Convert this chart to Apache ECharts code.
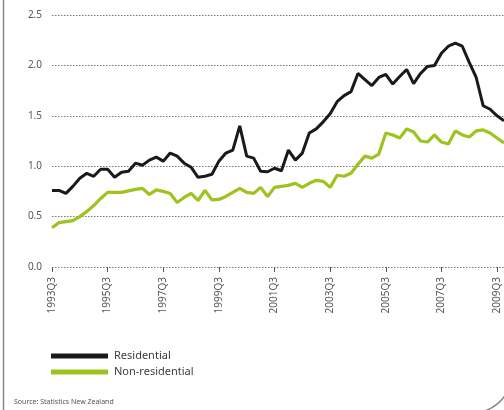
<!DOCTYPE html>
<html>
<head>
<meta charset="utf-8">
<script src="https://cdn.jsdelivr.net/npm/echarts@6/dist/echarts.min.js"></script>
<style>
html,body{margin:0;padding:0;background:#fff;}
#chart{width:504px;height:410px;}
</style>
</head>
<body>
<div id="chart"></div>
<script>
// Quarters 1993Q3 .. 2009Q4
const quarters = [];
for (let y = 1993; y <= 2009; y++) {
  for (let q = 1; q <= 4; q++) {
    if (y === 1993 && q < 3) continue;
    quarters.push(y + 'Q' + q);
  }
}

const residential = [
  0.76, 0.76, 0.73, 0.80, 0.88, 0.93, 0.90, 0.97, 0.97, 0.89,
  0.94, 0.95, 1.03, 1.01, 1.06, 1.09, 1.05, 1.13, 1.10, 1.03,
  0.99, 0.89, 0.90, 0.92, 1.05, 1.13, 1.16, 1.40, 1.10, 1.08,
  0.95, 0.945, 0.98, 0.955, 1.16, 1.06, 1.13, 1.33, 1.37, 1.44,
  1.52, 1.64, 1.70, 1.74, 1.92, 1.86, 1.80, 1.88, 1.91, 1.815,
  1.89, 1.96, 1.82, 1.92, 1.99, 2.00, 2.12, 2.19, 2.22, 2.19,
  2.03, 1.88, 1.60, 1.565, 1.50, 1.45
];

const nonResidential = [
  0.39, 0.44, 0.45, 0.46, 0.50, 0.55, 0.61, 0.68, 0.74, 0.74,
  0.74, 0.755, 0.77, 0.78, 0.72, 0.765, 0.75, 0.73, 0.64, 0.69,
  0.73, 0.66, 0.76, 0.665, 0.67, 0.70, 0.74, 0.78, 0.74, 0.73,
  0.79, 0.70, 0.79, 0.80, 0.81, 0.83, 0.79, 0.83, 0.86, 0.85,
  0.79, 0.91, 0.90, 0.93, 1.02, 1.10, 1.08, 1.12, 1.33, 1.31,
  1.28, 1.37, 1.34, 1.25, 1.24, 1.31, 1.24, 1.22, 1.35, 1.31,
  1.29, 1.35, 1.36, 1.33, 1.28, 1.23
];

const yTicks = [0, 0.5, 1.0, 1.5, 2.0, 2.5];
const seriesNames = ['Residential', 'Non-residential'];
const sourceText = 'Source: Statistics New Zealand';

const chart = echarts.init(document.getElementById('chart'), null, {renderer: 'canvas'});
const fontFam = '"Noto Sans", "Open Sans", sans-serif';

chart.setOption({
  animation: false,
  backgroundColor: '#ffffff',
  grid: {left: 52, top: 15, right: -1.5, bottom: 143, containLabel: false},
  xAxis: {
    type: 'category',
    data: quarters,
    boundaryGap: false,
    axisLine: {show: false},
    axisTick: {show: true, interval: 7, length: 5, lineStyle: {color: '#555', width: 1}},
    axisLabel: {
      interval: 7, rotate: 90, margin: 10,
      fontSize: 10, fontFamily: fontFam, color: '#555'
    },
    splitLine: {show: false}
  },
  yAxis: {
    type: 'value',
    min: yTicks[0], max: yTicks[yTicks.length - 1], interval: 0.5,
    axisLine: {show: false},
    axisTick: {show: false},
    axisLabel: {
      margin: 10, fontSize: 10, fontFamily: fontFam, color: '#555',
      formatter: v => v.toFixed(1)
    },
    splitLine: {show: true, lineStyle: {type: [1.5, 1.5], color: '#777', width: 1.2}}
  },
  legend: {
    orient: 'vertical',
    left: 46, top: 344,
    icon: 'rect',
    itemWidth: 57, itemHeight: 5,
    itemGap: 2,
    data: seriesNames,
    textStyle: {fontSize: 11, fontFamily: fontFam, color: '#3d3a45', lineHeight: 14, padding: [0, 0, 0, 1]}
  },
  graphic: [
    {type: 'line', shape: {x1: 3.5, y1: 0, x2: 3.5, y2: 410}, style: {stroke: '#888', lineWidth: 1.5}},
    {type: 'arc', shape: {cx: 472, cy: 373, r: 40, startAngle: 0.4, endAngle: 1.45}, style: {stroke: '#888', lineWidth: 1.5, fill: null}},
    {type: 'text', left: 14, top: 398, style: {text: sourceText, fontSize: 7, fontFamily: fontFam, fill: '#555'}}
  ],
  series: [
    {
      name: seriesNames[0], type: 'line', data: residential,
      showSymbol: false, symbol: 'none',
      lineStyle: {color: '#1a1a1a', width: 3}, itemStyle: {color: '#1a1a1a'}
    },
    {
      name: seriesNames[1], type: 'line', data: nonResidential,
      showSymbol: false, symbol: 'none',
      lineStyle: {color: '#9ec31e', width: 3.2}, itemStyle: {color: '#9ec31e'}
    }
  ]
});
</script>
</body>
</html>
